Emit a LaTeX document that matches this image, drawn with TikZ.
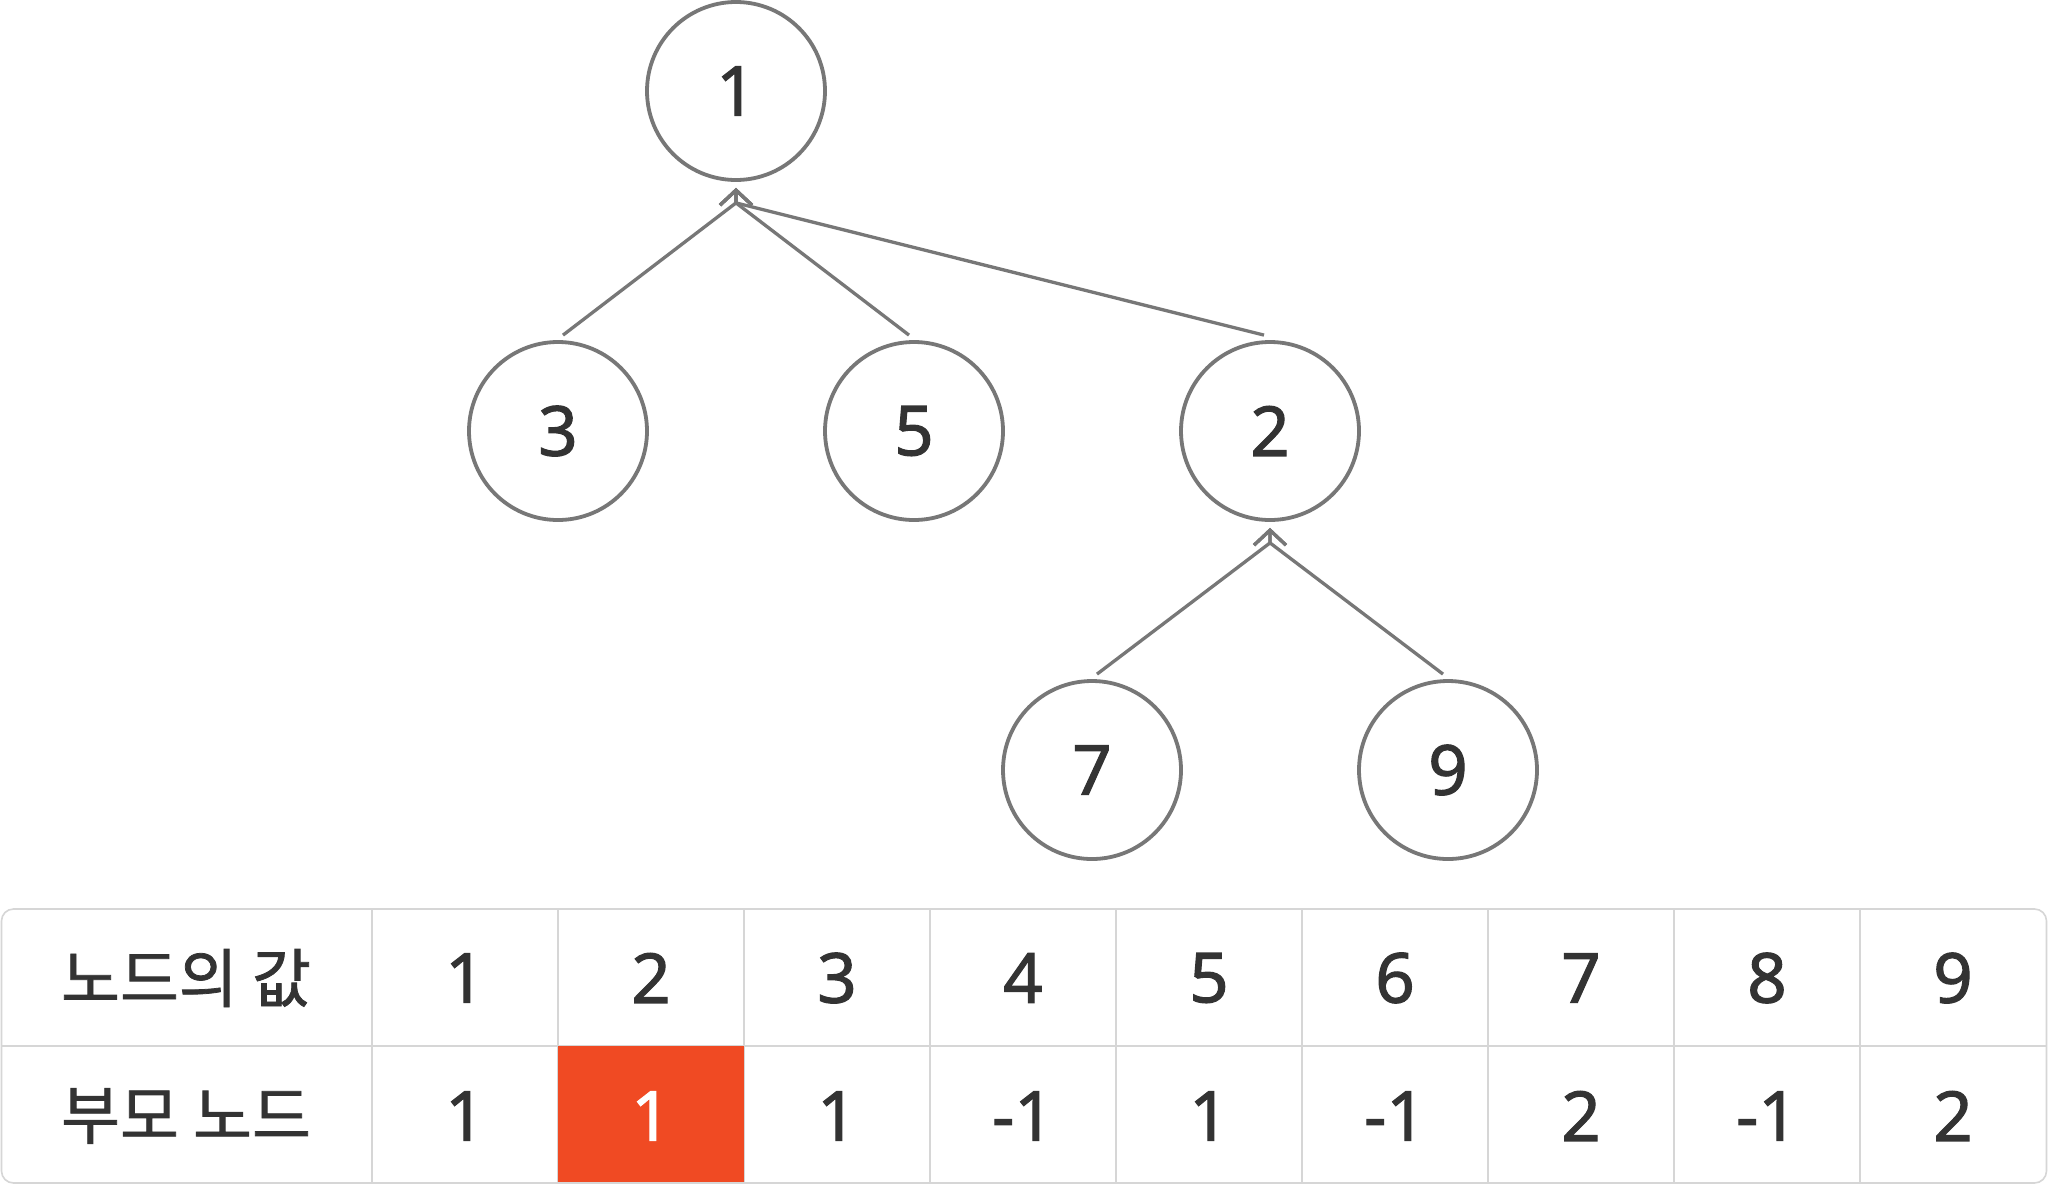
\documentclass[tikz,border=0pt]{standalone}
\usepackage{fontspec}
\setmainfont{Noto Sans}
\newfontfamily\numfont{Noto Sans}[FakeBold=1.6]
\newfontfamily\kr{Noto Sans CJK KR}[FakeBold=1.2]
\usetikzlibrary{arrows.meta,calc}
\definecolor{edgegray}{HTML}{777777}
\definecolor{txt}{HTML}{333333}
\definecolor{gridgray}{HTML}{D6D6D6}
\definecolor{hl}{HTML}{F04A23}
\begin{document}
\begin{tikzpicture}[x=1pt,y=-1pt,
  treenode/.style={circle,draw=edgegray,line width=3.8pt,minimum size=178pt,inner sep=0pt,
    text=txt,font=\numfont\bfseries\fontsize{69}{80}\selectfont},
  edge/.style={draw=edgegray,line width=3.3pt,-{Straight Barb[length=15pt,width=32pt,line width=3.3pt]}},
  cell/.style={text=txt,font=\numfont\bfseries\fontsize{69}{80}\selectfont,inner sep=0pt},
  label/.style={text=txt,font=\kr\fontsize{64}{76}\selectfont,inner sep=0pt},
  grid/.style={draw=gridgray,line width=1.6pt}]
\useasboundingbox (0,0) rectangle (2048,1184);
\fill[white] (0,0) rectangle (2048,1184);
% tree
\node[treenode] (n1) at (736,91) {1};
\node[treenode] (n3) at (558,431) {3};
\node[treenode] (n5) at (914,431) {5};
\node[treenode] (n2) at (1270,431) {2};
\node[treenode] (n7) at (1092,770) {7};
\node[treenode] (n9) at (1448,770) {9};
\coordinate (j1) at ($(n1.south)+(0,21)$);
\coordinate (t1) at ($(n1.south)+(0,6)$);
\coordinate (j2) at ($(n2.south)+(0,21)$);
\coordinate (t2) at ($(n2.south)+(0,6)$);
\draw[edge] ($(n3.north)+(5,-5)$) -- (j1) -- (t1);
\draw[edge] ($(n5.north)+(-5,-5)$) -- (j1) -- (t1);
\draw[edge] ($(n2.north)+(-6,-5)$) -- (j1) -- (t1);
\draw[edge] ($(n7.north)+(5,-5)$) -- (j2) -- (t2);
\draw[edge] ($(n9.north)+(-5,-5)$) -- (j2) -- (t2);
% table
\draw[grid] (1.5,1046) -- (2046.5,1046);
\foreach \k in {0,...,8} {
  \draw[grid] ({372+186*\k},909) -- ({372+186*\k},1183);
}
\fill[hl] (558,1046) rectangle (744,1184);
\draw[grid,rounded corners=12pt] (1.5,909) rectangle (2046.5,1183);
\node[label] (l1) at (186,978) {노드의 값};
\node[label] (l2) at (186,1116) {부모 노드};
\foreach \v [count=\i] in {1,2,3,4,5,6,7,8,9} {
  \node[cell] (v\i) at ({465+186*(\i-1)},978) {\v};
}
\foreach \p/\c [count=\i] in {1/txt,1/white,1/txt,-1/txt,1/txt,-1/txt,2/txt,-1/txt,2/txt} {
  \node[cell,text=\c] (p\i) at ({465+186*(\i-1)},1116) {\p};
}
\end{tikzpicture}
\end{document}
